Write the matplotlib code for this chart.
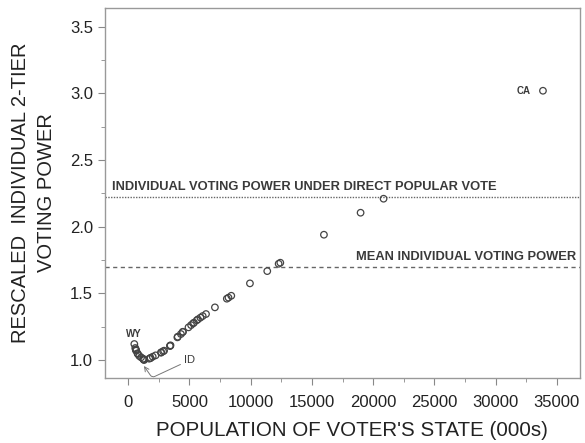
import numpy as np
import matplotlib
matplotlib.use('Agg')
import matplotlib.pyplot as plt
from matplotlib.ticker import MultipleLocator

plt.rcParams['font.family'] = ['Liberation Sans', 'DejaVu Sans']

# state populations (000s), 2000 census, and rescaled 2-tier voting power
states = ['WY', 'DC', 'VT', 'AK', 'ND', 'SD', 'DE', 'MT', 'RI', 'HI', 'NH', 'ME', 'ID',
          'NE', 'WV', 'NM', 'NV', 'UT', 'AR', 'KS', 'MS', 'IA', 'CT', 'OR', 'OK', 'SC',
          'KY', 'CO', 'AL', 'LA', 'MN', 'AZ', 'MD', 'WI', 'MO', 'TN', 'WA', 'IN', 'MA',
          'VA', 'NC', 'GA', 'NJ', 'MI', 'OH', 'PA', 'IL', 'FL', 'NY', 'TX', 'CA']
population = [494, 572, 609, 627, 642, 755, 784, 902, 1048, 1212, 1236, 1275, 1294,
              1711, 1808, 1819, 1998, 2233, 2673, 2688, 2845, 2926, 3406, 3421, 3451, 4012,
              4042, 4301, 4447, 4469, 4919, 5131, 5296, 5364, 5595, 5689, 5894, 6080, 6349,
              7078, 8049, 8186, 8414, 9938, 11353, 12281, 12419, 15982, 18976, 20852, 33872]
power = [1.12, 1.09, 1.08, 1.075, 1.07, 1.05, 1.045, 1.03, 1.02, 1.01, 1.005, 1.003, 1.0,
         1.01, 1.015, 1.015, 1.025, 1.035, 1.055, 1.058, 1.065, 1.07, 1.105, 1.107, 1.11, 1.17,
         1.175, 1.195, 1.21, 1.212, 1.245, 1.262, 1.275, 1.28, 1.298, 1.305, 1.318, 1.33, 1.345,
         1.395, 1.46, 1.468, 1.482, 1.575, 1.667, 1.722, 1.73, 1.94, 2.105, 2.21, 3.02]

direct_vote = 2.225
mean_power = 1.70

txt = '#3a3a3a'

fig = plt.figure(figsize=(5.85, 4.43), dpi=100)
ax = fig.add_axes([0.1795, 0.1467, 0.812, 0.835])

ax.scatter(population, power, s=22, facecolors='none', edgecolors='#444444', linewidths=0.9, zorder=3)

ax.axhline(direct_vote, color='#666666', linestyle=(0, (1, 1)), linewidth=1.0)
ax.axhline(mean_power, color='#666666', linestyle=(0, (3, 2.5)), linewidth=1.0)

ax.text(-1360, direct_vote + 0.03, 'INDIVIDUAL VOTING POWER UNDER DIRECT POPULAR VOTE',
        fontsize=9.3, fontweight='bold', color=txt, va='bottom', ha='left')
ax.text(36600, mean_power + 0.03, 'MEAN INDIVIDUAL VOTING POWER',
        fontsize=9.3, fontweight='bold', color=txt, va='bottom', ha='right')

ax.text(470, 1.155, 'WY', fontsize=7, fontweight='bold', color=txt, ha='center', va='bottom')
ax.text(32300, 3.02, 'CA', fontsize=7, fontweight='bold', color=txt, ha='center', va='center')
ax.annotate('ID', xy=(1280, 0.955), xytext=(5040, 1.0), fontsize=8, color=txt,
            ha='center', va='center',
            arrowprops=dict(arrowstyle='->', color='#777777', lw=0.7, shrinkA=1, shrinkB=0,
                            connectionstyle='angle,angleA=-155,angleB=125,rad=3'))

ax.set_xlim(-1900, 36900)
ax.set_ylim(0.865, 3.64)
ax.xaxis.set_major_locator(MultipleLocator(5000))
ax.xaxis.set_minor_locator(MultipleLocator(2500))
ax.set_yticks([1.0, 1.5, 2.0, 2.5, 3.0, 3.5])
ax.set_yticklabels(['1.0', '1.5', '2.0', '2.5', '3.0', '3.5'])
ax.yaxis.set_minor_locator(MultipleLocator(0.25))

for s in ax.spines.values():
    s.set_color('#999999')
    s.set_linewidth(1.0)
ax.tick_params(which='both', direction='out', colors='#888888', labelcolor='#222222')
ax.tick_params(which='major', length=5, labelsize=12)
ax.tick_params(axis='x', which='major', pad=7)
ax.tick_params(which='minor', length=3)

ax.set_xlabel("POPULATION OF VOTER'S STATE (000s)", fontsize=14.8, color='#222222', labelpad=5)
ax.xaxis.set_label_coords(0.52, -0.115)
ax.set_ylabel('RESCALED  INDIVIDUAL 2-TIER\nVOTING POWER', fontsize=14.5, color='#222222',
              labelpad=10, linespacing=1.5)

fig.savefig('out.png', dpi=100)
